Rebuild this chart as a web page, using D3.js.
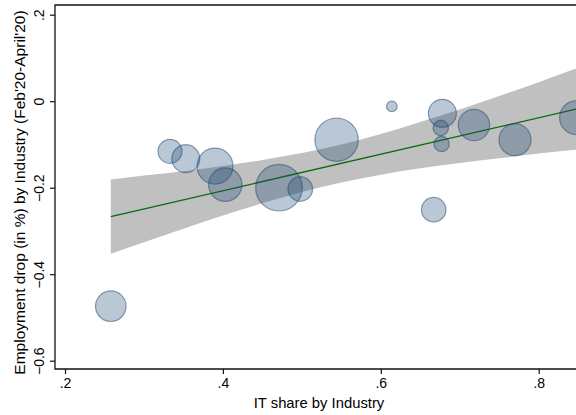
<!DOCTYPE html>
<html>
<head>
<meta charset="utf-8">
<script src="https://cdn.jsdelivr.net/npm/d3@7"></script>
<style>
  html, body { margin: 0; padding: 0; background: #fff; }
  svg { display: block; font-family: "Liberation Sans", Arial, Helvetica, sans-serif; }
</style>
</head>
<body>
<svg id="chart" width="576" height="415"></svg>
<script>
// Industries: IT share vs. employment change, bubble size = industry employment weight
const itShare   = [0.258, 0.333, 0.353, 0.390, 0.403, 0.471, 0.498, 0.544, 0.614, 0.678, 0.676, 0.677, 0.718, 0.770, 0.667, 0.848];
const empDrop   = [-0.474, -0.116, -0.133, -0.150, -0.193, -0.200, -0.203, -0.089, -0.012, -0.028, -0.062, -0.099, -0.055, -0.089, -0.251, -0.038];
const empWeight = [23.4, 14.4, 19.6, 32.4, 27.9, 54.3, 15.1, 47.1, 2.8, 19.6, 5.9, 5.9, 24.6, 25.6, 15.1, 28.9];

// Linear fit and its 95% confidence band
const fitX      = [0.258, 0.848];
const fitY      = [-0.267, -0.018];
const bandX     = [0.258, 0.30, 0.35, 0.40, 0.45, 0.50, 0.55, 0.60, 0.65, 0.70, 0.75, 0.80, 0.848];
const bandUpper = [-0.181, -0.172, -0.162, -0.150, -0.136, -0.120, -0.100, -0.076, -0.048, -0.019, 0.012, 0.044, 0.076];
const bandLower = [-0.353, -0.326, -0.295, -0.264, -0.236, -0.210, -0.188, -0.170, -0.155, -0.143, -0.132, -0.121, -0.112];

const xTicks = [0.2, 0.4, 0.6, 0.8];
const yTicks = [-0.6, -0.4, -0.2, 0, 0.2];
const xTitle = "IT share by Industry";
const yTitle = "Employment drop (in %) by Industry (Feb'20-April'20)";

const svg = d3.select("#chart");
const frame = { left: 55, right: 600, top: 5, bottom: 369 };

const x = d3.scaleLinear().domain([0.2, 0.8]).range([65, 538.7]);
const y = d3.scaleLinear().domain([-0.6, 0.2]).range([360.7, 14.7]);
const r = d3.scaleSqrt().domain([0, d3.max(empWeight)]).range([0, 23.3]);

const fmt = v => v === 0 ? "0" : d3.format(".1f")(v).replace(/^(-?)0\./, "$1.");

svg.append("defs").append("clipPath").attr("id", "plotclip")
  .append("rect")
  .attr("x", frame.left).attr("y", frame.top)
  .attr("width", frame.right - frame.left).attr("height", frame.bottom - frame.top);

const plot = svg.append("g").attr("clip-path", "url(#plotclip)");

// confidence band
const band = bandX.map((v, i) => ({ x: v, lo: bandLower[i], hi: bandUpper[i] }));
plot.append("path")
  .datum(band)
  .attr("fill", "#c0c0c0")
  .attr("d", d3.area()
    .curve(d3.curveMonotoneX)
    .x(d => x(d.x)).y0(d => y(d.lo)).y1(d => y(d.hi)));

// fitted line
plot.append("path")
  .datum(fitX.map((v, i) => [v, fitY[i]]))
  .attr("fill", "none")
  .attr("stroke", "#0b6a0b")
  .attr("stroke-width", 1.4)
  .attr("d", d3.line().x(d => x(d[0])).y(d => y(d[1])));

// bubbles
const pts = itShare.map((v, i) => ({ x: v, y: empDrop[i], w: empWeight[i] }));
plot.selectAll("circle.bubble")
  .data(pts)
  .join("circle")
  .attr("class", "bubble")
  .attr("cx", d => x(d.x))
  .attr("cy", d => y(d.y))
  .attr("r", d => r(d.w))
  .attr("fill", "rgb(26,71,111)")
  .attr("fill-opacity", 0.3)
  .attr("stroke", "rgb(26,71,111)")
  .attr("stroke-opacity", 0.5)
  .attr("stroke-width", 1.2);

// plot region frame (left, top, bottom)
svg.append("path")
  .attr("fill", "none")
  .attr("stroke", "#111")
  .attr("stroke-width", 1.3)
  .attr("d", `M${frame.right},${frame.top}H${frame.left}V${frame.bottom}H${frame.right}`);

// x axis
const xAxis = svg.append("g")
  .attr("transform", `translate(0,${frame.bottom})`)
  .call(d3.axisBottom(x).tickValues(xTicks).tickFormat(fmt).tickSize(5).tickPadding(4));
xAxis.select(".domain").remove();
xAxis.selectAll(".tick line").attr("stroke", "#111").attr("stroke-width", 1.2);
xAxis.selectAll(".tick text")
  .attr("fill", "#000")
  .attr("font-size", 14)
  .attr("font-family", "Liberation Sans, Arial, sans-serif");

// y axis with rotated labels
const yAxis = svg.append("g")
  .attr("transform", `translate(${frame.left},0)`)
  .call(d3.axisLeft(y).tickValues(yTicks).tickFormat(fmt).tickSize(5));
yAxis.select(".domain").remove();
yAxis.selectAll(".tick line").attr("stroke", "#111").attr("stroke-width", 1.2);
yAxis.selectAll(".tick text")
  .attr("fill", "#000")
  .attr("font-size", 14)
  .attr("font-family", "Liberation Sans, Arial, sans-serif")
  .attr("x", null).attr("dy", null)
  .attr("text-anchor", "middle")
  .attr("transform", "translate(-11,0) rotate(-90)");

// axis titles
svg.append("text")
  .attr("x", 319).attr("y", 408)
  .attr("text-anchor", "middle")
  .attr("font-size", 14.8)
  .attr("fill", "#000")
  .text(xTitle);

svg.append("text")
  .attr("transform", "translate(25,192.5) rotate(-90)")
  .attr("text-anchor", "middle")
  .attr("font-size", 15.5)
  .attr("fill", "#000")
  .text(yTitle);
</script>
</body>
</html>
